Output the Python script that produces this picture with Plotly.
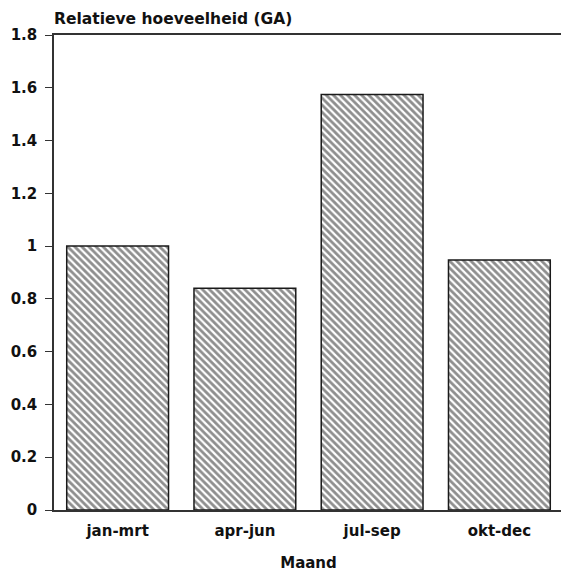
import plotly.graph_objects as go

categories = ["jan-mrt", "apr-jun", "jul-sep", "okt-dec"]
values = [1.0, 0.84, 1.575, 0.947]
y_ticks = [0, 0.2, 0.4, 0.6, 0.8, 1.0, 1.2, 1.4, 1.6, 1.8]
y_tick_labels = ["0", "0.2", "0.4", "0.6", "0.8", "1", "1.2", "1.4", "1.6", "1.8"]
title_text = "Relatieve hoeveelheid (GA)"
x_title = "Maand"

font_family = "DejaVu Sans, Verdana, sans-serif"

fig = go.Figure()
fig.add_trace(go.Bar(
    x=categories,
    y=values,
    width=0.8,
    marker=dict(
        color="white",
        line=dict(color="#1a1a1a", width=1.5),
        pattern=dict(shape="\\", fgcolor="#1e1e1e", bgcolor="white", size=5, solidity=0.55),
    ),
))

fig.update_layout(
    width=561, height=564,
    margin=dict(l=46, r=6, t=27, b=62, autoexpand=False),
    paper_bgcolor="white",
    plot_bgcolor="white",
    showlegend=False,
    font=dict(family=font_family, color="#111", size=15),
    annotations=[dict(
        text="<b>" + title_text + "</b>",
        xref="paper", yref="paper", x=0.0, y=1.0,
        xanchor="left", yanchor="bottom", yshift=5, xshift=-2,
        showarrow=False, font=dict(size=15.5, family=font_family, color="#111"),
    )],
)
fig.update_xaxes(
    range=[-0.5, 3.5],
    showline=True, linecolor="#333", linewidth=1.5, mirror=True,
    ticks="", showgrid=False, automargin=False,
    ticklabelstandoff=6,
    tickfont=dict(size=15, family=font_family),
    tickvals=list(range(len(categories))),
    ticktext=["<b>" + c + "</b>" for c in categories],
    title=dict(text="<b>" + x_title + "</b>", font=dict(size=15, family=font_family), standoff=19),
)
fig.update_yaxes(
    range=[0, 1.8],
    showline=True, linecolor="#333", linewidth=1.5, mirror=True,
    ticks="outside", ticklen=7, tickwidth=1.2, tickcolor="#333",
    showgrid=False, zeroline=False, automargin=False,
    ticklabelstandoff=5,
    tickvals=y_ticks,
    ticktext=["<b>" + t + "</b>" for t in y_tick_labels],
    tickfont=dict(size=15, family=font_family),
)

fig.write_html("out.html")
